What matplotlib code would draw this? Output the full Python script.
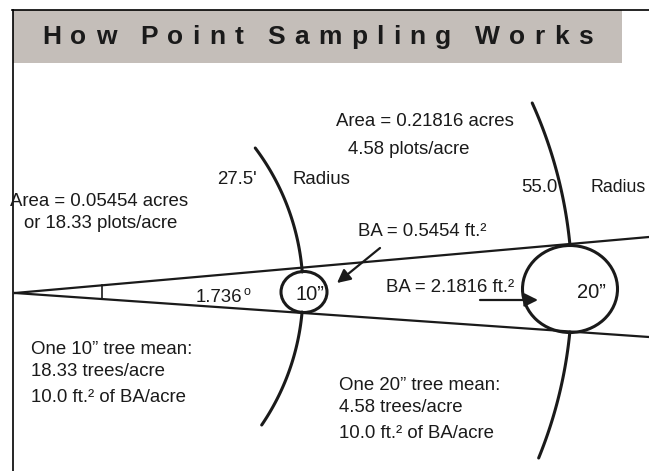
import numpy as np
import matplotlib
matplotlib.use('Agg')
import matplotlib.pyplot as plt
from matplotlib.patches import Ellipse, Rectangle

# values shown on the diagram
plot_radius_ft = [27.5, 55.0]
tree_dbh_in = [10, 20]
tree_ba_ft2 = [0.5454, 2.1816]
plot_area_acres = [0.05454, 0.21816]
plots_per_acre = [18.33, 4.58]
ba_per_acre = [10.0, 10.0]
angle_deg = 1.736
title = 'How Point Sampling Works'

plt.rcParams['font.family'] = ['Liberation Sans', 'DejaVu Sans']
ink = '#1a1a1a'

fig = plt.figure(figsize=(6.49, 4.71), dpi=100)
ax = fig.add_axes([0, 0, 1, 1])
ax.set_xlim(0, 649)
ax.set_ylim(471, 0)
ax.axis('off')

# frame + title banner
ax.plot([12, 649], [9.5, 9.5], color='black', lw=1.2)
ax.plot([12.5, 12.5], [9.5, 471], color='black', lw=1.2)
ax.add_patch(Rectangle((13, 10), 609, 53, color='#c4beb9', lw=0))

# title with letter spacing
fig.canvas.draw()
rend = fig.canvas.get_renderer()
title_fs = 19
words = title.split(' ')
char_w = []
for w in words:
    ws = []
    for ch in w:
        t = ax.text(0, 0, ch, fontsize=title_fs, weight='bold')
        ws.append(t.get_window_extent(rend).width)
        t.remove()
    char_w.append(ws)
x0, x1 = 42, 593
n_gaps = sum(len(w) - 1 for w in words)
word_gap_ratio = 2.6
total_chars = sum(sum(ws) for ws in char_w)
g = (x1 - x0 - total_chars) / (n_gaps + word_gap_ratio * (len(words) - 1))
x = x0
for w, ws in zip(words, char_w):
    for ch, cw in zip(w, ws):
        ax.text(x, 37, ch, fontsize=title_fs, weight='bold', color=ink,
                ha='left', va='center')
        x += cw + g
    x += g * (word_gap_ratio - 1)

# cone lines
apex = (15, 293)
ax.plot([apex[0], 649], [apex[1], 237], color=ink, lw=1.6)
ax.plot([apex[0], 649], [apex[1], 337], color=ink, lw=1.6)
tick_x = 102
sl_up = (237 - apex[1]) / (649 - apex[0])
sl_lo = (337 - apex[1]) / (649 - apex[0])
ax.plot([tick_x, tick_x], [apex[1] + sl_up * (tick_x - apex[0]),
                           apex[1] + sl_lo * (tick_x - apex[0])], color=ink, lw=1.2)

# trees
ax.add_patch(Ellipse((304, 292), 46, 41, fill=False, ec=ink, lw=2.2))
ax.add_patch(Ellipse((570, 289), 95, 87, fill=False, ec=ink, lw=2.2))


def arc(cx, cy, r, y_start, y_end):
    a0 = np.arcsin((y_start - cy) / r)
    a1 = np.arcsin((y_end - cy) / r)
    a = np.linspace(a0, a1, 80)
    ax.plot(cx + r * np.cos(a), cy + r * np.sin(a), color=ink, lw=2.2,
            solid_capstyle='round')


# plot radius arcs
arc(65, 291, 238, 148, 272)
arc(65, 291, 238, 312, 425)
arc(122, 288, 450, 103, 245)
arc(122, 288, 450, 332, 458)

# arrows
ax.annotate('', xy=(337, 283), xytext=(380, 248),
            arrowprops=dict(arrowstyle='-|>', color=ink, lw=1.6,
                            mutation_scale=20, shrinkA=0, shrinkB=0))
ax.annotate('', xy=(538, 300), xytext=(480, 300),
            arrowprops=dict(arrowstyle='-|>', color=ink, lw=1.6,
                            mutation_scale=20, shrinkA=0, shrinkB=0))

fs = 13.4
kw = dict(fontsize=fs, color=ink, ha='left', va='center')

ax.text(10, 202, f'Area = {plot_area_acres[0]:.5f} acres', **kw)
ax.text(24, 223, f'or {plots_per_acre[0]:.2f} plots/acre', **kw)
ax.text(217, 179, f"{plot_radius_ft[0]:.1f}'", **kw)
ax.text(293, 180, 'Radius', **kw)

ax.text(336, 121, f'Area = {plot_area_acres[1]:.5f} acres', **kw)
ax.text(348, 149, f'{plots_per_acre[1]:.2f} plots/acre', **kw)
ax.text(521, 187, f'{plot_radius_ft[1]:.1f}', **kw)
ax.text(591, 187, 'Radius', fontsize=12.8, color=ink, ha='left', va='center')

ax.text(358, 232, f'BA = {tree_ba_ft2[0]:.4f} ft.\u00b2', **kw)
ax.text(386, 287, f'BA = {tree_ba_ft2[1]:.4f} ft.\u00b2', **kw)

ang = ax.text(196, 297, f'{angle_deg:.3f}', **kw)
fig.canvas.draw()
ang_right = ax.transData.inverted().transform(
    (ang.get_window_extent(rend).x1, 0))[0]
ax.text(ang_right + 1, 292, 'o', fontsize=9, color=ink, ha='left', va='center')

ax.text(310, 294, f'{tree_dbh_in[0]}\u201d', fontsize=14.5, color=ink,
        ha='center', va='center')
ax.text(591, 292, f'{tree_dbh_in[1]}\u201d', fontsize=14.5, color=ink,
        ha='center', va='center')

ax.text(31, 349, f'One {tree_dbh_in[0]}\u201d tree mean:', **kw)
ax.text(31, 372, f'{plots_per_acre[0]:.2f} trees/acre', **kw)
ax.text(31, 397, f'{ba_per_acre[0]:.1f} ft.\u00b2 of BA/acre', **kw)

ax.text(339, 385, f'One {tree_dbh_in[1]}\u201d tree mean:', **kw)
ax.text(339, 408, f'{plots_per_acre[1]:.2f} trees/acre', **kw)
ax.text(339, 434, f'{ba_per_acre[1]:.1f} ft.\u00b2 of BA/acre', **kw)

fig.savefig('out.png', dpi=100, facecolor='white')
